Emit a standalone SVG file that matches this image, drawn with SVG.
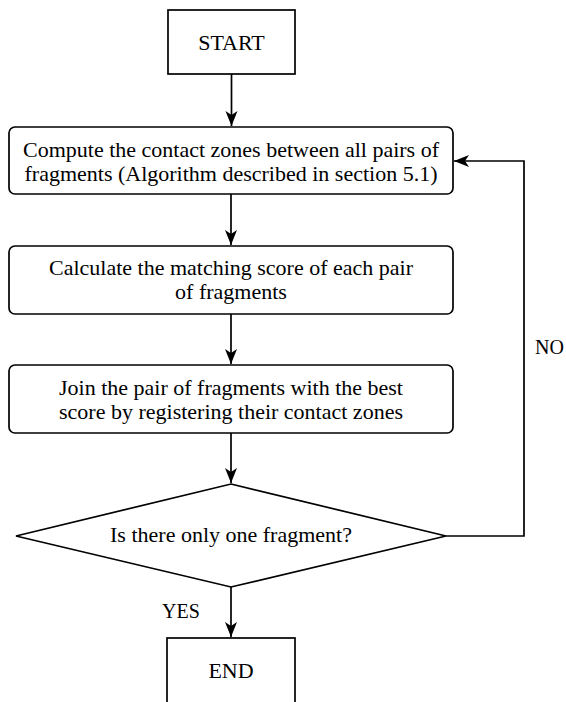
<svg xmlns="http://www.w3.org/2000/svg" width="566" height="702" viewBox="0 0 566 702">
<style>
.shape{fill:#fff;stroke:#000;stroke-width:1.7}
.t{font-family:"Liberation Serif","Times New Roman",serif;font-size:22px;fill:#000;text-anchor:middle}
.lbl{font-family:"Liberation Serif","Times New Roman",serif;font-size:20px;fill:#000}
.edge{fill:none;stroke:#000;stroke-width:1.7}
</style>
<defs>
<marker id="ah" markerWidth="16" markerHeight="14" viewBox="0 0 16 14" refX="15" refY="7" orient="auto" markerUnits="userSpaceOnUse">
<path d="M0,1 L15,7 L0,13 L4,7 z" fill="#000"/>
</marker>
</defs>
<rect width="566" height="702" fill="#fff"/>
<g id="start">
<rect class="shape" x="168" y="10" width="127" height="64"/>
<text class="t" x="231.5" y="50">START</text>
</g>
<g id="step1">
<rect class="shape" x="9" y="127" width="444" height="67" rx="6"/>
<text class="t" x="231" y="157">Compute the contact zones between all pairs of</text>
<text class="t" x="231" y="181">fragments (Algorithm described in section 5.1)</text>
</g>
<g id="step2">
<rect class="shape" x="9" y="246" width="444" height="68" rx="6"/>
<text class="t" x="231" y="275">Calculate the matching score of each pair</text>
<text class="t" x="231" y="299">of fragments</text>
</g>
<g id="step3">
<rect class="shape" x="9" y="365" width="444" height="68" rx="6"/>
<text class="t" x="231" y="395">Join the pair of fragments with the best</text>
<text class="t" x="231" y="419">score by registering their contact zones</text>
</g>
<g id="decision">
<polygon class="shape" points="231,484 446,536 231,587 16,536"/>
<text class="t" x="231" y="542">Is there only one fragment?</text>
</g>
<g id="end">
<rect class="shape" x="167" y="638" width="128" height="80"/>
<text class="t" x="231" y="678">END</text>
</g>
<g id="connectors">
<line class="edge" x1="231.5" y1="74" x2="231.5" y2="126" marker-end="url(#ah)"/>
<line class="edge" x1="231" y1="194" x2="231" y2="245" marker-end="url(#ah)"/>
<line class="edge" x1="231" y1="314" x2="231" y2="364" marker-end="url(#ah)"/>
<line class="edge" x1="231" y1="433" x2="231" y2="483" marker-end="url(#ah)"/>
<line class="edge" x1="231" y1="587" x2="231" y2="637" marker-end="url(#ah)"/>
<polyline class="edge" points="446,536 524,536 524,161 454,161" marker-end="url(#ah)"/>
<text class="lbl" x="535" y="354">NO</text>
<text class="lbl" x="162" y="618">YES</text>
</g>
</svg>
